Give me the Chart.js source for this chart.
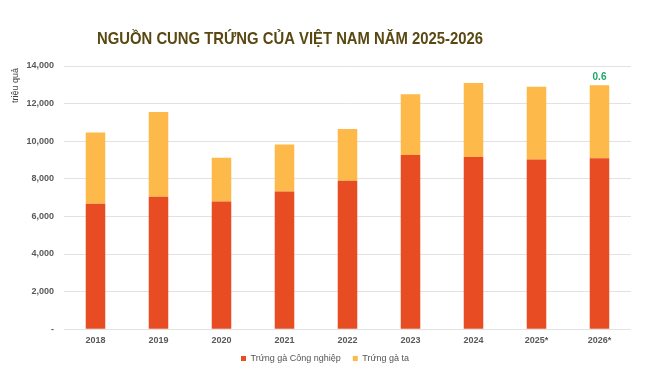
<!DOCTYPE html>
<html>
<head>
<meta charset="utf-8">
<script src="https://cdn.jsdelivr.net/npm/chart.js@4"></script>
<style>
html,body{margin:0;padding:0;background:#fff;}
#wrap{width:650px;height:373px;position:relative;}
</style>
</head>
<body>
<div id="wrap"><canvas id="c" width="650" height="373"></canvas></div>
<script>
const categories = ['2018','2019','2020','2021','2022','2023','2024','2025*','2026*'];
const industrialEggs = [6670, 7040, 6790, 7320, 7890, 9270, 9160, 9020, 9090];
const localEggs = [3790, 4510, 2330, 2510, 2760, 3230, 3940, 3880, 3890];
const topLabels = ['', '', '', '', '', '', '', '', '0.6'];
const seriesNames = ['Trứng gà Công nghiệp', 'Trứng gà ta'];
const titleText = 'NGUỒN CUNG TRỨNG CỦA VIỆT NAM NĂM 2025-2026';
const yAxisTitle = 'triệu quả';
const yMax = 14000, yStep = 2000;

const textPlugin = {
  id: 'customText',
  afterDraw(chart) {
    const ctx = chart.ctx;
    ctx.save();
    ctx.font = 'bold 17px "Liberation Sans", Arial, sans-serif';
    ctx.fillStyle = '#5a4812';
    ctx.textBaseline = 'alphabetic';
    ctx.textAlign = 'left';
    ctx.fillText(titleText, 97, 44, 386);
    ctx.restore();

    ctx.save();
    ctx.translate(20, chart.chartArea.top + 2);
    ctx.rotate(-Math.PI / 2);
    ctx.font = '9px "Liberation Sans", Arial, sans-serif';
    ctx.fillStyle = '#444';
    ctx.textAlign = 'right';
    ctx.textBaseline = 'bottom';
    ctx.fillText(yAxisTitle, 0, 0);
    ctx.restore();
  }
};

const topLabelPlugin = {
  id: 'topLabels',
  afterDatasetsDraw(chart) {
    const ctx = chart.ctx;
    const meta = chart.getDatasetMeta(1);
    ctx.save();
    ctx.font = 'bold 10px "Liberation Sans", Arial, sans-serif';
    ctx.fillStyle = '#1aa86a';
    ctx.textAlign = 'center';
    ctx.textBaseline = 'bottom';
    meta.data.forEach((bar, i) => {
      if (topLabels[i]) ctx.fillText(topLabels[i], bar.x, bar.y - 3);
    });
    ctx.restore();
  }
};

const legendTighten = {
  id: 'legendTighten',
  afterInit(chart) {
    const lg = chart.legend;
    const origFit = lg.fit;
    lg.fit = function () { origFit.call(this); this.height -= 10; };
  },
  afterLayout(chart) {
    chart.legend.top -= 10;
    chart.legend.bottom -= 10;
    chart.legend.left += 5;
    chart.legend.right += 5;
  }
};

new Chart(document.getElementById('c'), {
  type: 'bar',
  data: {
    labels: categories,
    datasets: [
      { label: seriesNames[0], data: industrialEggs, backgroundColor: '#e84c22', barPercentage: 0.31, categoryPercentage: 1 },
      { label: seriesNames[1], data: localEggs, backgroundColor: '#fdb94a', barPercentage: 0.31, categoryPercentage: 1 }
    ]
  },
  options: {
    responsive: false,
    animation: false,
    devicePixelRatio: 1,
    layout: { padding: { top: 66, right: 19, left: 9, bottom: 0 } },
    plugins: {
      legend: {
        position: 'bottom',
        labels: {
          boxWidth: 5, boxHeight: 5, padding: 12,
          color: '#555',
          font: { family: '"Liberation Sans", Arial, sans-serif', size: 9 }
        }
      },
      tooltip: { enabled: false },
      title: { display: false }
    },
    scales: {
      x: {
        stacked: true,
        grid: { display: false, drawTicks: false },
        border: { display: false },
        ticks: { color: '#595959', font: { family: '"Liberation Sans", Arial, sans-serif', size: 9, weight: 'bold' }, padding: 6 }
      },
      y: {
        stacked: true,
        min: 0, max: yMax,
        border: { display: false },
        grid: { color: '#e2e2e2', drawTicks: false, lineWidth: 1 },
        afterFit(axis) { axis.width = 55; },
        ticks: {
          stepSize: yStep,
          padding: 10,
          color: '#595959',
          font: { family: '"Liberation Sans", Arial, sans-serif', size: 9, weight: 'bold' },
          callback: v => v === 0 ? '-' : v.toLocaleString('en-US')
        }
      }
    }
  },
  plugins: [textPlugin, topLabelPlugin, legendTighten]
});
</script>
</body>
</html>
